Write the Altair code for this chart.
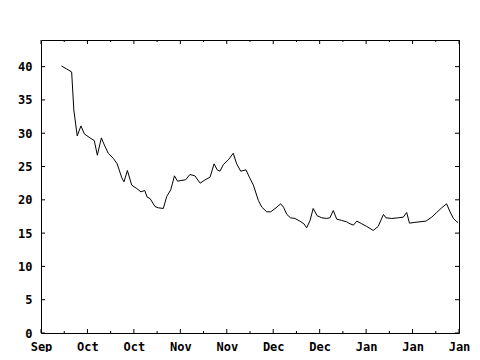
import altair as alt
import pandas as pd

# Days since the first x tick (ticks every 15 days) and the series values
days = [6.6, 8.1, 9.9, 10.6, 11.7, 12.9, 14.0, 15.8, 17.2, 18.2, 19.5, 20.3, 21.7,
        23.4, 24.6, 26.1, 26.8, 27.9, 29.3, 30.9, 32.3, 33.5, 34.3, 35.2, 36.8,
        37.9, 39.5, 40.6, 41.9, 43.1, 44.1, 45.2, 46.7, 48.1, 49.7, 51.4, 53.0,
        54.6, 55.9, 56.9, 57.8, 58.9, 60.5, 62.1, 63.2, 64.5, 66.2, 67.3, 68.6,
        70.2, 71.3, 72.9, 74.2, 75.9, 77.4, 78.3, 79.4, 80.6, 82.0, 83.6, 84.9,
        85.8, 86.9, 87.9, 89.2, 90.7, 92.3, 93.3, 94.4, 95.5, 97.1, 98.7, 99.8,
        100.9, 102.0, 103.6, 105.2, 107.3, 108.9, 110.6, 111.4, 113.3, 115.4,
        117.0, 118.1, 119.0, 120.5, 122.4, 124.3, 126.2, 127.8, 129.4, 131.0,
        132.1, 133.2, 134.3, 134.7]
values = [40.1, 39.7, 39.2, 33.5, 29.6, 31.1, 29.9, 29.3, 28.9, 26.7, 29.3, 28.4, 27.0,
          26.2, 25.4, 23.3, 22.7, 24.4, 22.2, 21.7, 21.2, 21.4, 20.4, 20.2, 19.0,
          18.8, 18.7, 20.5, 21.5, 23.6, 22.8, 22.9, 23.0, 23.8, 23.6, 22.5, 23.0,
          23.4, 25.4, 24.5, 24.3, 25.3, 26.0, 27.0, 25.4, 24.3, 24.5, 23.4, 22.2,
          19.9, 18.9, 18.2, 18.2, 18.8, 19.4, 18.9, 17.8, 17.3, 17.2, 16.8, 16.4,
          15.8, 16.9, 18.7, 17.6, 17.3, 17.2, 17.3, 18.4, 17.1, 16.9, 16.7, 16.4,
          16.2, 16.8, 16.4, 16.0, 15.4, 16.0, 17.8, 17.3, 17.2, 17.3,
          17.4, 18.1, 16.5, 16.6, 16.7, 16.8, 17.4, 18.1, 18.8, 19.4,
          18.2, 17.2, 16.7, 16.6]

x_ticks = [0, 15, 30, 45, 60, 75, 90, 105, 120, 135]
x_labels = ["Sep", "Oct", "Oct", "Nov", "Nov", "Dec", "Dec", "Jan", "Jan", "Jan"]
x_minor = [7.5, 22.5, 37.5, 52.5, 67.5, 82.5, 97.5, 112.5, 127.5]
y_ticks = [0, 5, 10, 15, 20, 25, 30, 35, 40]

W, H = 418, 293
FONT = "DejaVu Sans Mono"

df = pd.DataFrame({"day": days, "value": values})
xt = pd.DataFrame({"t": x_ticks})
xm = pd.DataFrame({"t": x_minor})
yt = pd.DataFrame({"t": y_ticks})

xscale = alt.Scale(domain=[0, 135], nice=False, zero=False)
yscale = alt.Scale(domain=[0, 44], nice=False)

label_expr = "[" + ",".join("'%s'" % l for l in x_labels) + "][round(datum.value / 15)]"

xaxis = alt.Axis(values=x_ticks, labelExpr=label_expr, ticks=False, domain=False,
                 grid=False, labelFlush=False, labelOverlap=False, labelPadding=8,
                 labelFont=FONT, labelFontSize=12, labelFontWeight="bold",
                 labelColor="black", title=None)
yaxis = alt.Axis(values=y_ticks, ticks=False, domain=False, grid=False,
                 labelPadding=9, labelFont=FONT, labelFontSize=12,
                 labelFontWeight="bold", labelColor="black", labelFlush=False,
                 labelOverlap=False, title=None)

line = alt.Chart(df).mark_line(color="black", strokeWidth=1).encode(
    x=alt.X("day:Q", scale=xscale, axis=xaxis),
    y=alt.Y("value:Q", scale=yscale, axis=yaxis),
)

def xrule(data, y0, y1):
    return alt.Chart(data).mark_rule(color="black", strokeWidth=1).encode(
        x=alt.X("t:Q", scale=xscale, axis=xaxis),
        y=alt.value(y0), y2=alt.value(y1))

def yrule(data, x0, x1):
    return alt.Chart(data).mark_rule(color="black", strokeWidth=1).encode(
        y=alt.Y("t:Q", scale=yscale, axis=yaxis),
        x=alt.value(x0), x2=alt.value(x1))

chart = alt.layer(
    line,
    xrule(xt, H, H - 4), xrule(xt, 0, 4),
    xrule(xm, H, H - 2), xrule(xm, 0, 2),
    yrule(yt, 0, 4), yrule(yt, W, W - 4),
).properties(
    width=W, height=H,
    padding={"left": 33, "top": 32, "right": 13, "bottom": 19},
    autosize=alt.AutoSizeParams(type="none"),
    background="white",
).configure_view(stroke="black", strokeWidth=1)

chart.save("out.html", embed_options={"renderer": "svg", "actions": False})
